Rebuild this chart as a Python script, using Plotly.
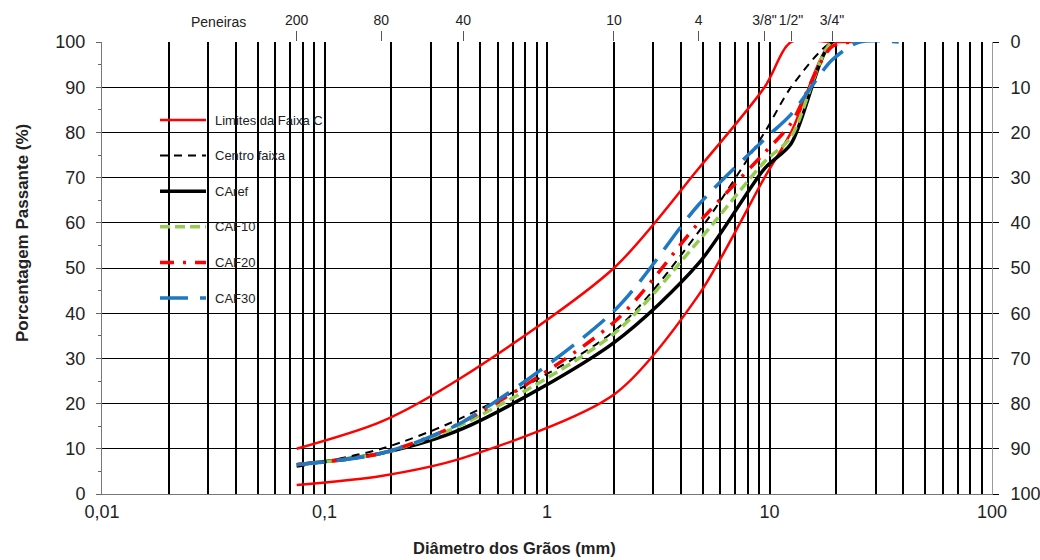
import plotly.graph_objects as go

# Abertura das peneiras (mm) e porcentagem passante de cada curva
peneiras = [0.075, 0.18, 0.42, 2.0, 4.8, 9.5, 12.5, 19.1, 25.4]
peneiras_caf30 = [0.075, 0.18, 0.42, 2.0, 4.8, 9.5, 12.5, 19.1, 25.4, 38.1]
limite_inf = [2, 4, 8, 22, 44, 70, 80, 100, 100]
limite_sup = [10, 16, 26, 50, 72, 90, 100, 100, 100]
centro = [6, 10, 17, 36, 58, 80, 90, 100, 100]
caref = [6.5, 9, 14.5, 33.5, 51, 72, 77.5, 100, 100]
caf10 = [6.5, 9, 15.5, 35.5, 56, 73.5, 79, 100, 100]
caf20 = [6.5, 9, 16, 38, 60, 75.5, 82, 99, 100]
caf30 = [6.5, 9, 16, 40.5, 64, 78.5, 84, 96, 100, 100]

# Eixo superior: numeração das peneiras
peneira_vals = [0.075, 0.18, 0.42, 2.0, 4.8, 9.5, 12.5, 19.1]
peneira_nomes = ['200', '80', '40', '10', '4', '3/8"', '1/2"', '3/4"']

# Eixo inferior: décadas com rótulo, subdivisões só com grade
decadas = [0.01, 0.1, 1, 10, 100]
decadas_txt = ['0,01', '0,1', '1', '10', '100']

FONT = 'Arial, Liberation Sans, sans-serif'
RED = '#FF0000'
GREEN = '#92CD50'
BLUE = '#1F78C4'

# Estilo de cada série: nome, cor, espessura, tracejado
ESTILOS = {
    'lim': ('Limites da Faixa C', RED, 2.5, 'solid'),
    'cen': ('Centro faixa', 'black', 2, '8px,6px'),
    'ref': ('CAref', 'black', 3.5, 'solid'),
    'c10': ('CAF10', GREEN, 3.5, '10px,5px'),
    'c20': ('CAF20', RED, 3.5, '14px,9px,3px,9px'),
    'c30': ('CAF30', BLUE, 3.5, '28px,12px'),
}

x_grid, x_text = [], []
for d, t in zip(decadas, decadas_txt):
    for k in range(1, 10):
        v = d * k
        if v > 100.0001:
            break
        x_grid.append(v)
        x_text.append(t if k == 1 else '')

fig = go.Figure()

def curva(x, y, chave):
    nome, cor, largura, dash = ESTILOS[chave]
    fig.add_trace(go.Scatter(
        x=x, y=y, name=nome, mode='lines',
        line=dict(color=cor, width=largura, dash=dash, shape='spline', smoothing=0.8),
    ))

curva(peneiras, limite_sup, 'lim')
curva(peneiras, limite_inf, 'lim')
curva(peneiras, centro, 'cen')
curva(peneiras, caref, 'ref')
curva(peneiras, caf10, 'c10')
curva(peneiras, caf20, 'c20')
curva(peneiras_caf30, caf30, 'c30')

# Linha invisível para ativar o eixo superior e o eixo direito
fig.add_trace(go.Scatter(x=[0.01, 100], y=[100, 0], xaxis='x2', yaxis='y2',
                         mode='lines', line=dict(width=0), showlegend=False,
                         hoverinfo='skip'))

L, R, T, B = 102, 48, 42, 66
W, H = 1040, 560
pw, ph = W - L - R, H - T - B

def px(xp):
    return (xp - L) / pw

def py(yp):
    return (H - B - yp) / ph

# Caixa de legenda: fundo branco entre a grade e as curvas, amostras e textos
shapes = [
    dict(type='rect', xref='paper', yref='paper', layer='between',
         x0=px(120), x1=px(335), y0=py(318), y1=py(112),
         fillcolor='white', line=dict(width=0)),
]
annotations = []
leg_y0, leg_dy = 120, 35.6
for i, chave in enumerate(['lim', 'cen', 'ref', 'c10', 'c20', 'c30']):
    nome, cor, largura, dash = ESTILOS[chave]
    yl = py(leg_y0 + i * leg_dy)
    shapes.append(dict(type='line', xref='paper', yref='paper', layer='above',
                       x0=px(160), x1=px(206), y0=yl, y1=yl,
                       line=dict(color=cor, width=largura, dash=dash)))
    annotations.append(dict(text=nome, x=px(213), y=yl, xref='paper', yref='paper',
                            xanchor='left', yanchor='middle', showarrow=False,
                            font=dict(size=13, color='#222')))

annotations += [
    dict(text='Peneiras', x=px(218), y=py(22), xref='paper', yref='paper',
         xanchor='center', yanchor='middle',
         showarrow=False, font=dict(size=14, color='#222')),
    dict(text='<b>Porcentagem Passante (%)</b>', x=px(22), y=py(233),
         xref='paper', yref='paper', xanchor='center', yanchor='middle',
         textangle=-90, showarrow=False, font=dict(size=17, color='#222')),
    dict(text='<b>Diâmetro dos Grãos (mm)</b>', x=px(514), y=py(548),
         xref='paper', yref='paper', xanchor='center', yanchor='middle',
         showarrow=False, font=dict(size=16.5, color='#222')),
]

TICKS = dict(size=18, color='#222')

fig.update_layout(
    width=W, height=H,
    margin=dict(l=L, r=R, t=T, b=B, autoexpand=False),
    paper_bgcolor='white', plot_bgcolor='white',
    font=dict(family=FONT, color='black'),
    showlegend=False,
    xaxis=dict(
        type='log', range=[-2, 2], tickmode='array', tickvals=x_grid, ticktext=x_text,
        showgrid=True, gridcolor='black', gridwidth=1.6, ticks='',
        tickfont=TICKS, zeroline=False, ticklabelstandoff=1,
        showline=True, linecolor='#777', linewidth=1,
    ),
    xaxis2=dict(
        type='log', range=[-2, 2], overlaying='x', side='top', anchor='y',
        tickmode='array', tickvals=peneira_vals, ticktext=peneira_nomes,
        ticks='outside', ticklen=10, tickwidth=1, tickcolor='#555',
        tickfont=dict(size=14, color='#222'), showgrid=False, showline=False,
        zeroline=False,
    ),
    yaxis=dict(
        range=[0, 100], dtick=10, showgrid=True, gridcolor='black', gridwidth=1.2,
        ticks='outside', ticklen=5, tickcolor='#666', tickwidth=1,
        minor=dict(dtick=5, ticks='outside', ticklen=3, tickcolor='#666', showgrid=False),
        tickfont=TICKS, zeroline=False, ticklabelstandoff=7,
        showline=True, linecolor='#777', linewidth=1,
    ),
    yaxis2=dict(
        range=[100, 0], dtick=10, overlaying='y', side='right', anchor='x',
        ticks='outside', ticklen=6, tickcolor='black', tickwidth=1,
        tickfont=TICKS, showgrid=False, zeroline=False, ticklabelstandoff=8,
        showline=True, linecolor='#999', linewidth=1,
    ),
    shapes=shapes,
    annotations=annotations,
)

fig.write_html('out.html')
